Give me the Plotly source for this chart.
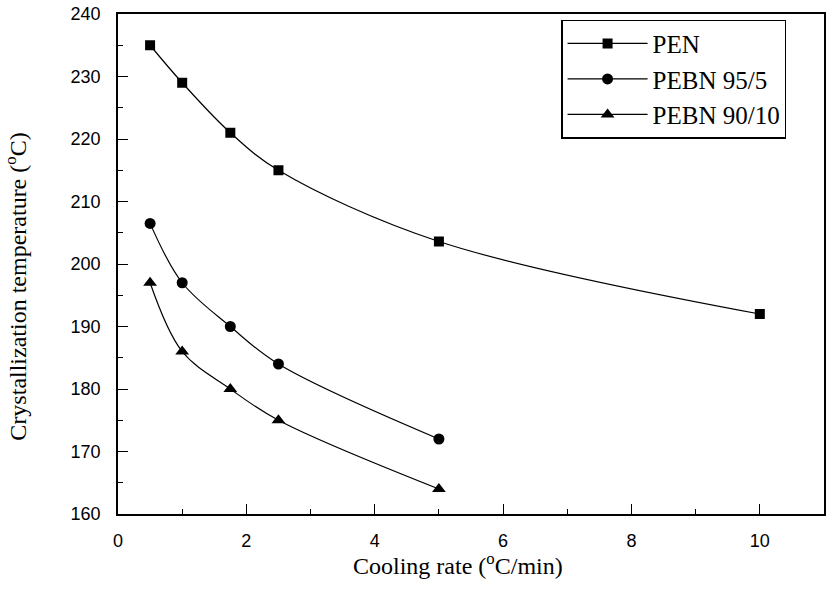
import plotly.graph_objects as go

# Data
pen_x = [0.5, 1.0, 1.75, 2.5, 5.0, 10.0]
pen_y = [235.0, 229.0, 221.0, 215.0, 203.6, 192.0]

pebn955_x = [0.5, 1.0, 1.75, 2.5, 5.0]
pebn955_y = [206.5, 197.0, 190.0, 184.0, 172.0]

pebn9010_x = [0.5, 1.0, 1.75, 2.5, 5.0]
pebn9010_y = [197.0, 186.0, 180.0, 175.0, 164.0]

series_names = ["PEN", "PEBN 95/5", "PEBN 90/10"]

x_ticks = [0, 2, 4, 6, 8, 10]
y_ticks = [160, 170, 180, 190, 200, 210, 220, 230, 240]

SERIF = "Liberation Serif, Times New Roman, serif"
SANS = "Liberation Sans, Arial, sans-serif"

fig = go.Figure()
for xs, ys, name, sym, size in [
    (pen_x, pen_y, series_names[0], "square", 10),
    (pebn955_x, pebn955_y, series_names[1], "circle", 11),
    (pebn9010_x, pebn9010_y, series_names[2], "triangle-up", 12),
]:
    fig.add_trace(go.Scatter(
        x=xs, y=ys, name=name, mode="lines+markers",
        line=dict(color="black", width=1.2, shape="spline", smoothing=1.0),
        marker=dict(symbol=sym, size=size, color="black"),
    ))

fig.update_layout(
    width=828, height=600,
    margin=dict(l=118, r=2, t=14, b=86),
    paper_bgcolor="white", plot_bgcolor="white",
    showlegend=True,
    legend=dict(
        x=0.628, y=0.989, xanchor="left", yanchor="top",
        bgcolor="white", bordercolor="black", borderwidth=1.2,
        font=dict(family=SERIF, size=25, color="black"),
        itemwidth=80, tracegroupgap=4,
    ),
    xaxis=dict(
        range=[0, 11], tickvals=x_ticks, ticktext=[str(v) for v in x_ticks],
        ticks="inside", ticklen=10, tickwidth=1.2, tickcolor="black",
        minor=dict(dtick=1, ticks="inside", ticklen=5, tickwidth=1, tickcolor="black"),
        showline=True, linecolor="black", linewidth=1.6, mirror=True,
        showgrid=False, zeroline=False,
        tickfont=dict(family=SANS, size=18, color="black"),
        ticklabelstandoff=10,
    ),
    yaxis=dict(
        range=[160, 240], tickvals=y_ticks, ticktext=[str(v) for v in y_ticks],
        ticks="inside", ticklen=10, tickwidth=1.2, tickcolor="black",
        minor=dict(dtick=5, ticks="inside", ticklen=5, tickwidth=1, tickcolor="black"),
        showline=True, linecolor="black", linewidth=1.6, mirror=True,
        showgrid=False, zeroline=False,
        tickfont=dict(family=SANS, size=18, color="black"),
        ticklabelstandoff=12,
    ),
    annotations=[
        dict(text="Cooling rate (<sup>o</sup>C/min)", xref="paper", yref="paper",
             x=0.482, y=-0.10, xanchor="center", yanchor="middle", showarrow=False,
             font=dict(family=SERIF, size=24, color="black")),
        dict(text="Crystallization temperature (<sup>o</sup>C)", xref="paper", yref="paper",
             x=-0.145, y=0.454, xanchor="center", yanchor="middle", showarrow=False,
             textangle=-90, font=dict(family=SERIF, size=24, color="black")),
    ],
)

fig.write_html("out.html")
